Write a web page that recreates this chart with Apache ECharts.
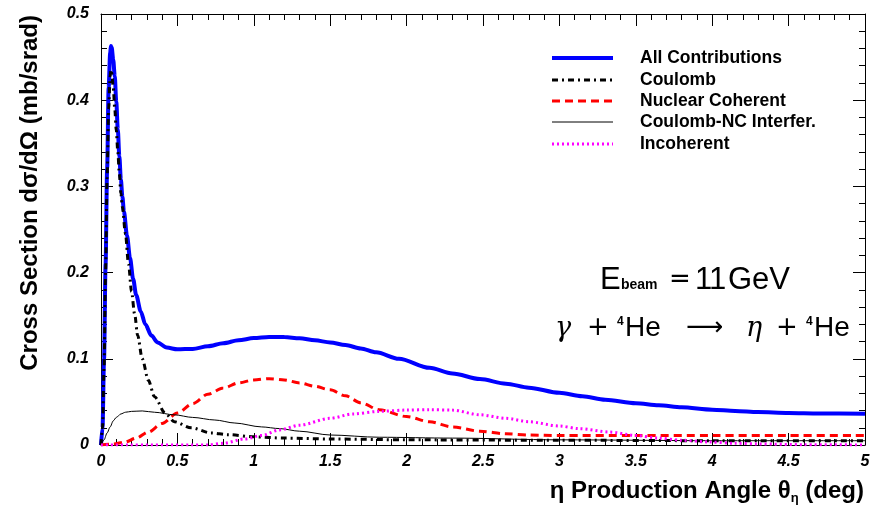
<!DOCTYPE html>
<html>
<head>
<meta charset="utf-8">
<script src="https://cdn.jsdelivr.net/npm/echarts@6/dist/echarts.min.js"></script>
<style>
html,body{margin:0;padding:0;background:#fff;}
#c{width:880px;height:507px;}
</style>
</head>
<body>
<div id="c"></div>
<script>
// ---- data (theta in deg, cross section in mb/srad) ----
const allX = [0,0.01,0.02,0.03,0.04,0.05,0.06,0.065,0.07,0.08,0.09,0.1,0.11,0.12,0.13,0.14,0.15,0.17,0.19,0.21,0.23,0.26,0.29,0.33,0.37,0.43,0.5,0.6,0.7,0.8,0.9,1.0,1.1,1.2,1.3,1.4,1.5,1.6,1.7,1.8,1.95,2.15,2.3,2.48,2.65,2.8,3.0,3.15,3.3,3.5,3.65,3.8,4.0,4.15,4.3,4.5,4.7,5.0];
const allY = [0,0.02,0.1,0.21,0.32,0.415,0.455,0.463,0.461,0.447,0.428,0.398,0.366,0.335,0.308,0.288,0.271,0.243,0.217,0.193,0.174,0.155,0.14,0.127,0.119,0.113,0.111,0.1115,0.1145,0.118,0.1215,0.124,0.1253,0.1252,0.1238,0.1215,0.119,0.116,0.112,0.1075,0.1,0.0895,0.083,0.0765,0.0712,0.0665,0.0605,0.0565,0.0525,0.0485,0.046,0.0437,0.041,0.0395,0.0383,0.0372,0.0366,0.0362];

const coulX = [0,0.01,0.02,0.03,0.04,0.05,0.06,0.065,0.07,0.08,0.09,0.1,0.11,0.12,0.13,0.14,0.16,0.18,0.2,0.22,0.24,0.27,0.31,0.35,0.42,0.48,0.59,0.72,0.83,1.0,1.2,1.5,2.0,3.0,4.0,5.0];
const coulY = [0,0.02,0.09,0.2,0.31,0.39,0.428,0.435,0.432,0.415,0.39,0.365,0.34,0.315,0.292,0.276,0.245,0.21,0.178,0.152,0.127,0.1,0.075,0.056,0.037,0.027,0.02,0.014,0.012,0.0095,0.008,0.007,0.006,0.0055,0.005,0.005];

const ncX = [0,0.08,0.157,0.23,0.31,0.4,0.5,0.6,0.7,0.8,0.9,1.0,1.1,1.2,1.3,1.4,1.5,1.6,1.7,1.82,2.0,2.15,2.3,2.48,2.65,2.8,3.0,3.5,4.0,4.5,5.0];
const ncY = [0,0.001,0.0035,0.008,0.015,0.025,0.037,0.048,0.059,0.066,0.072,0.0755,0.077,0.0755,0.072,0.068,0.064,0.057,0.049,0.041,0.033,0.027,0.021,0.016,0.013,0.0116,0.011,0.011,0.011,0.011,0.011];

const intX = [0,0.02,0.04,0.06,0.08,0.1,0.13,0.16,0.2,0.27,0.35,0.48,0.6,0.745,0.876,1.05,1.17,1.3,1.5,1.82,2.3,3.0,4.0,5.0];
const intY = [0,0.006,0.014,0.021,0.028,0.032,0.036,0.038,0.039,0.0395,0.038,0.035,0.032,0.029,0.0255,0.021,0.019,0.016,0.0116,0.009,0.008,0.006,0.005,0.005];

const incX = [0,0.7,0.8,0.94,1.05,1.17,1.3,1.5,1.65,1.82,2.0,2.15,2.3,2.48,2.65,2.8,3.0,3.13,3.33,3.5,3.65,3.8,3.98,4.15,4.3,4.6,5.0];
const incY = [0,0,0.002,0.007,0.011,0.0175,0.023,0.031,0.036,0.039,0.0405,0.041,0.0405,0.035,0.031,0.027,0.022,0.019,0.015,0.011,0.008,0.0055,0.0035,0.002,0.0012,0.0004,0];

const seriesNames = ['All Contributions','Coulomb','Nuclear Coherent','Coulomb-NC Interfer.','Incoherent'];
const xTicks = {min:0, max:5, step:0.5};
const yTicks = {min:0, max:0.5, step:0.1};

function pairs(xs, ys){ return xs.map((x,i)=>[x, ys[i]]); }

const chart = echarts.init(document.getElementById('c'), null, {renderer:'canvas'});
const FONT = '"Liberation Sans", Arial, sans-serif';
const labelStyle = {fontFamily:FONT, fontSize:16, fontWeight:'bold', fontStyle:'italic', color:'#000'};

const styles = [
  {color:'#0000ff', width:4, type:'solid'},
  {color:'#000000', width:3, type:[6,4,2,4]},
  {color:'#ff0000', width:3, type:[8,5]},
  {color:'#000000', width:1, type:'solid'},
  {color:'#ff00ff', width:3, type:[2,3]}
];
const seriesData = [pairs(allX, allY), pairs(coulX, coulY), pairs(ncX, ncY), pairs(intX, intY), pairs(incX, incY)];

function axisCommon(extra){
  return Object.assign({
    type:'value',
    axisLine:{show:true, onZero:false, lineStyle:{color:'#000', width:1}},
    axisTick:{show:true, inside:true, length:12, lineStyle:{color:'#000', width:1}},
    minorTick:{show:true, splitNumber:5, length:6, lineStyle:{color:'#000', width:1}},
    splitLine:{show:false},
    minorSplitLine:{show:false}
  }, extra);
}

// legend drawn as graphic samples
const legendGraphics = [];
const legendRowsY = [58, 80, 101, 122, 144];
seriesNames.forEach((n, i) => {
  const s = styles[i];
  legendGraphics.push({type:'line', shape:{x1:552, y1:legendRowsY[i], x2:613, y2:legendRowsY[i]},
    style:{stroke:s.color, lineWidth:s.width, lineDash: s.type === 'solid' ? null : s.type}});
  legendGraphics.push({type:'text', x:640, y:legendRowsY[i], style:{text:n, font:'bold 17.5px '+FONT,
    fill:'#000', verticalAlign:'middle', align:'left'}});
});

function txt(x, y, text, font, va){
  return {type:'text', x:x, y:y, style:{text:text, font:font, fill:'#000', align:'left', verticalAlign:va || 'middle'}};
}
const SERIF_IT = 'italic 27px "DejaVu Serif", serif';
const SYM = '26px "DejaVu Sans", sans-serif';
const annot = [
  // E_beam = 11 GeV
  txt(600, 280, 'E', '31px '+FONT),
  txt(621, 292, 'beam', 'bold 14px '+FONT, 'bottom'),
  txt(669, 280, '=', SYM),
  txt(695, 280, '1', '31px '+FONT),
  txt(709, 280, '1', '31px '+FONT),
  txt(728, 280, 'GeV', '31px '+FONT),
  // gamma + 4He -> eta + 4He
  txt(555, 329, 'γ', SERIF_IT),
  txt(587, 328, '+', SYM),
  txt(617, 322, '4', 'bold 12px '+FONT),
  txt(625, 328, 'He', '28px '+FONT),
  txt(686, 328, '⟶', SYM),
  txt(746, 329, 'η', SERIF_IT),
  txt(776, 328, '+', SYM),
  txt(806, 322, '4', 'bold 12px '+FONT),
  txt(814, 328, 'He', '28px '+FONT)
];

const option = {
  animation:false,
  backgroundColor:'#fff',
  grid:{left:101, right:15, top:14, bottom:62, containLabel:false},
  xAxis:[
    axisCommon({position:'bottom', min:xTicks.min, max:xTicks.max, interval:xTicks.step,
      axisLabel:Object.assign({margin:9, formatter:v=>String(v)}, labelStyle)}),
    axisCommon({position:'top', min:xTicks.min, max:xTicks.max, interval:xTicks.step, axisLabel:{show:false}})
  ],
  yAxis:[
    axisCommon({position:'left', min:yTicks.min, max:yTicks.max, interval:yTicks.step,
      axisLabel:Object.assign({margin:12, formatter:v=>String(Math.round(v*10)/10)}, labelStyle)}),
    axisCommon({position:'right', min:yTicks.min, max:yTicks.max, interval:yTicks.step, axisLabel:{show:false}})
  ],
  series: seriesNames.map((n, i) => ({
    name:n, type:'line', data:seriesData[i], showSymbol:false, symbol:'none',
    smooth:0.3, smoothMonotone:'x',
    lineStyle:{color:styles[i].color, width:styles[i].width, type:styles[i].type},
    itemStyle:{color:styles[i].color}, z: i === 0 ? 2 : 3
  })),
  graphic:[
    {type:'text', x:30, y:15, rotation:Math.PI/2, style:{
      text:'Cross Section dσ/dΩ (mb/srad)', font:'bold 24px '+FONT, fill:'#000',
      align:'right', verticalAlign:'middle'}},
    {type:'text', right:16, top:479, style:{
      text:'η Production Angle θ{s|η} (deg)', font:'bold 24px '+FONT, fill:'#000',
      rich:{s:{fontSize:13, fontWeight:'bold', fontFamily:FONT, padding:[14,0,0,0]}}}}
  ].concat(legendGraphics, annot)
};
chart.setOption(option);
</script>
</body>
</html>
